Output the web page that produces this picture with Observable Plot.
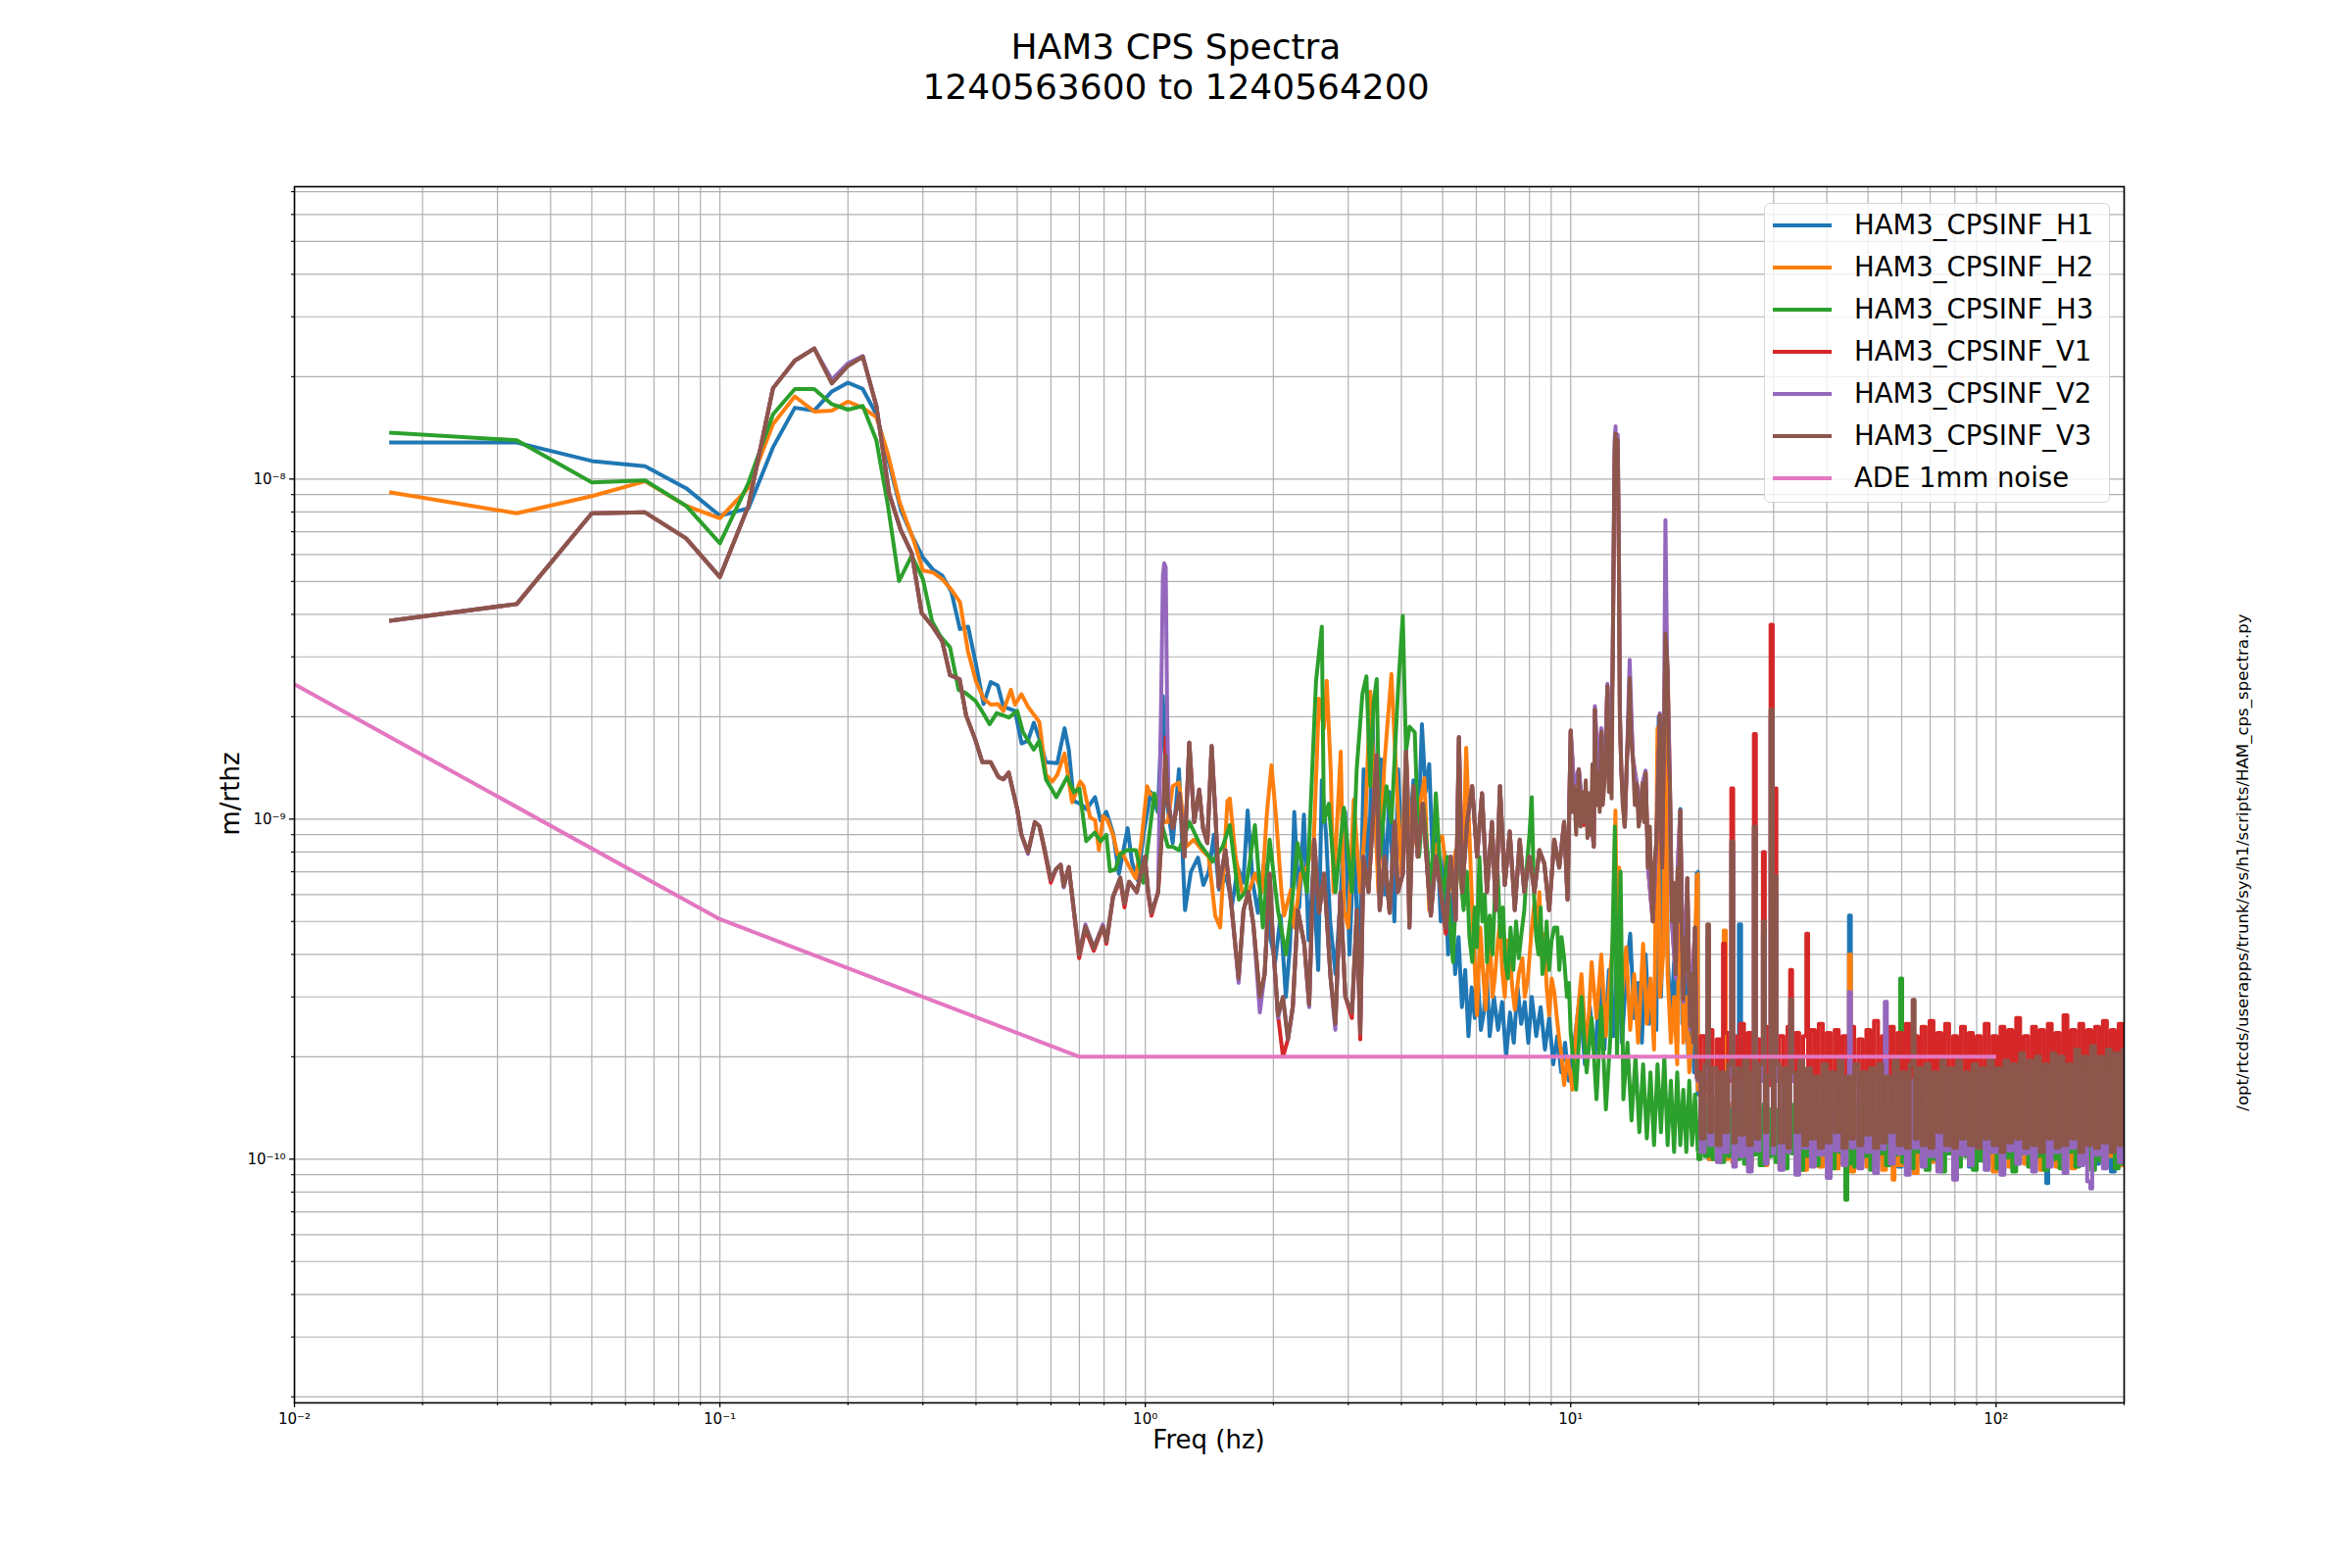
<!DOCTYPE html>
<html><head><meta charset="utf-8">
<script src="https://cdn.jsdelivr.net/npm/d3@7"></script>
<script src="https://cdn.jsdelivr.net/npm/@observablehq/plot@0.6"></script>
<style>
body{margin:0;background:#fff;font-family:"DejaVu Sans",sans-serif;}
#wrap{position:relative;width:2400px;height:1600px;background:#fff;overflow:hidden}
#chart{position:absolute;left:0;top:0}
#chart svg text{font-size:15px !important;font-family:"DejaVu Sans",sans-serif}
.abs{position:absolute;color:#000;white-space:nowrap}
#legend{position:absolute;left:1800px;top:207px;width:353px;height:306px;border:1.5px solid #d6d6d6;border-radius:6px;background:rgba(255,255,255,0.8);box-sizing:border-box}
.lrow{position:absolute;left:0;height:43px;width:100%}
.lline{position:absolute;left:8px;width:60px;height:4px}
.ltext{position:absolute;left:91px;font-size:27.5px;line-height:30px;color:#000}
</style></head><body>
<div id="wrap">
<div id="chart"></div>
<div class="abs" style="left:0;top:27px;width:2400px;text-align:center;font-size:36px;line-height:41px">HAM3 CPS Spectra<br>1240563600 to 1240564200</div>
<div class="abs" style="left:300px;top:1453px;width:1867px;text-align:center;font-size:26px;line-height:32px">Freq (hz)</div>
<div class="abs" style="left:235px;top:810px;font-size:26px;line-height:32px;transform:translate(-50%,-50%) rotate(-90deg)">m/rthz</div>
<div class="abs" style="left:2289px;top:880px;font-size:16.6px;line-height:20px;transform:translate(-50%,-50%) rotate(-90deg)">/opt/rtcds/userapps/trunk/sys/h1/scripts/HAM_cps_spectra.py</div>
<div id="legend"></div>
</div>
<script>
// values are in units of 1e-10 m/rthz
const UNIT = 1e-10;

const seriesNames = ["HAM3_CPSINF_H1","HAM3_CPSINF_H2","HAM3_CPSINF_H3","HAM3_CPSINF_V1","HAM3_CPSINF_V2","HAM3_CPSINF_V3","ADE 1mm noise"];
const seriesColors = ["#1f77b4","#ff7f0e","#2ca02c","#d62728","#9467bd","#8c564b","#e377c2"];

const xMajor = [0.01, 0.1, 1, 10, 100];
const xMajorLabels = ["10\u207B\u00B2","10\u207B\u00B9","10\u2070","10\u00B9","10\u00B2"];
const xMinor = [0.02,0.03,0.04,0.05,0.06,0.07,0.08,0.09,0.2,0.3,0.4,0.5,0.6,0.7,0.8,0.9,2,3,4,5,6,7,8,9,20,30,40,50,60,70,80,90,200];
const yMajor = [1e-10, 1e-9, 1e-8];
const yMajorLabels = ["10\u207B\u00B9\u2070","10\u207B\u2079","10\u207B\u2078"];
const yMinor = [2e-11,3e-11,4e-11,5e-11,6e-11,7e-11,8e-11,9e-11,2e-10,3e-10,4e-10,5e-10,6e-10,7e-10,8e-10,9e-10,2e-9,3e-9,4e-9,5e-9,6e-9,7e-9,8e-9,9e-9,2e-8,3e-8,4e-8,5e-8,6e-8,7e-8];

// frequency grid (Hz) for the dense 20-200 Hz noise band
const hiFreq = [
20.0,20.4,20.9,21.3,21.8,22.3,22.7,23.2,23.7,24.2,
24.7,25.3,25.8,26.4,26.9,27.5,28.1,28.7,29.3,30.0,
30.6,31.3,32.0,32.7,33.4,34.1,34.8,35.6,36.3,37.1,
37.9,38.7,39.6,40.4,41.3,42.2,43.1,44.0,45.0,45.9,
46.9,48.0,49.0,50.1,51.1,52.2,53.4,54.5,55.7,56.9,
58.1,59.4,60.7,62.0,63.3,64.7,66.1,67.5,69.0,70.5,
72.0,73.5,75.1,76.7,78.4,80.1,81.8,83.6,85.4,87.2,
89.1,91.0,93.0,95.0,97.1,99.2,101.3,103.5,105.7,108.0,
110.3,112.7,115.1,117.6,120.2,122.8,125.4,128.1,130.9,133.7,
136.6,139.5,142.5,145.6,148.7,151.9,155.2,158.6,162.0,165.5,
169.0,172.7,176.4,180.2,184.1,188.1,192.1,196.3,200.0];

// ---- HAM3_CPSINF_H1 ----
const h1Lo = [[0.0167,128],[0.0333,128],[0.05,113],[0.0667,109],[0.0833,94],[0.1,78],[0.1167,82],[0.1333,124],[0.15,162],[0.1667,159],[0.1833,181],[0.2,192],[0.2167,184],[0.2333,155],[0.25,111],[0.2667,80.7],[0.2833,67.9],[0.3,58.8],[0.3167,54.2],[0.3333,52.0],[0.35,46.6],[0.3667,36.2],[0.3833,36.8],[0.4,28.5],[0.4167,21.8],[0.4333,25.3],[0.45,24.7],[0.464,21.4],[0.494,20.8],[0.512,16.7],[0.53,17.0],[0.547,19.2],[0.564,17.2],[0.584,14.7],[0.621,14.6],[0.646,18.5],[0.661,16.0],[0.679,11.3],[0.703,11.1],[0.728,10.7],[0.762,11.6],[0.785,9.9],[0.81,10.5],[0.84,9.1],[0.867,6.9],[0.909,9.4],
[0.93,7.5],[0.96,6.6],[0.99,9.0],[1.03,12.0],[1.07,10.5],[1.10,23.0],[1.12,11.5],[1.16,8.5],[1.2,14.0],[1.24,5.4],[1.28,7.0],[1.33,7.7],[1.37,6.4],[1.41,7.0],[1.45,9.0],[1.49,6.2],[1.55,6.8],[1.6,5.6],[1.65,7.2],[1.7,6.5],[1.74,10.6],[1.79,6.5],[1.84,5.3],[1.9,7.4],[1.96,4.6],[2.02,3.8],[2.08,5.2],[2.14,3.0],[2.19,4.3],[2.24,10.5],[2.3,5.5],[2.36,10.3],[2.42,4.4],[2.48,7.0],[2.55,3.6],[2.6,13.0],[2.66,9.0],[2.72,5.0],[2.8,3.5],[2.88,6.0],[2.95,10.5],[3.02,4.0],[3.1,9.0],[3.18,3.3],[3.26,14.0],[3.35,6.5],[3.42,20.0],[3.5,8.0],[3.58,15.0],[3.66,6.0],[3.75,12.0],[3.85,5.0],[3.93,14.0],[4.02,7.0],[4.1,16.0],[4.18,9.0],[4.27,13.0],[4.37,8.0],[4.47,19.0],[4.56,12.0],[4.65,14.5],[4.75,7.0],[4.85,9.0],[4.95,5.0],[5.05,8.0],[5.15,4.0],[5.25,6.0],[5.35,3.5],[5.45,4.5],[5.55,2.8],[5.65,3.6],[5.75,2.3],[5.85,3.2],[5.95,2.6],[6.05,3.4],[6.15,2.4],[6.25,2.7],[6.35,3.5],[6.45,2.3],[6.6,3.0],[6.75,2.4],[6.9,2.9],[7.05,2.0],[7.2,2.7],[7.35,2.2],[7.5,3.2],[7.65,2.5],[7.8,2.9],[7.95,2.2],[8.1,3.0],[8.3,2.3],[8.5,2.8],[8.7,2.1],[8.9,2.6],[9.1,1.9],[9.3,2.3],[9.5,1.8],[9.7,2.2],[9.9,1.7],
[10.2,2.2],[10.5,3.0],[10.8,1.9],[11.1,2.8],[11.4,2.0],[11.7,3.2],[12.0,2.1],[12.3,3.6],[12.6,2.3],[12.9,4.5],[13.2,2.2],[13.5,3.5],[13.8,4.6],[14.1,2.6],[14.4,3.3],[14.7,2.2],[15.0,4.0],[15.3,2.5],[15.6,3.0],[15.9,2.4],[16.1,20.0],[16.3,3.0],[16.5,5.0],[16.7,28.0],[16.9,4.0],[17.2,2.5],[17.5,3.8],[17.8,2.2],[18.1,10.7],[18.3,2.5],[18.6,3.5],[18.9,2.0],[19.2,2.8],[19.5,1.8],[19.8,7.0]];
const h1Hi = [
1.55,1.05,1.6,1.0,1.5,1.08,1.5,1.02,1.45,1.0,
1.4,1.06,1.45,0.98,1.4,1.04,1.4,0.97,1.4,1.05,
1.4,0.99,1.45,1.05,1.4,0.97,1.4,1.06,1.4,0.96,
1.4,1.04,1.4,0.98,1.45,1.06,1.4,0.97,1.4,1.05,
1.4,0.97,1.45,1.05,1.4,0.96,1.4,1.04,1.45,0.98,
1.4,0.95,1.4,1.06,1.45,0.99,1.4,0.97,1.4,1.05,
1.4,0.96,1.4,1.04,1.45,0.98,1.4,1.06,1.4,0.95,
1.4,0.99,1.45,1.05,1.4,0.97,1.4,0.93,1.4,1.04,
1.45,0.98,1.4,1.05,1.4,0.96,1.45,1.03,1.4,0.97,
1.4,0.99,1.4,1.05,1.45,0.95,1.4,0.99,1.4,1.04,
1.4,0.97,1.45,1.02,1.4,0.92,1.4,1.05,1.4];
const h1Spikes = [[25.0,4.9],[45.2,5.2],[131.5,0.85]];

// ---- HAM3_CPSINF_H2 ----
const h2Lo = [[0.0167,91.5],[0.0333,79.3],[0.05,89.1],[0.0667,98.5],[0.0833,83.4],[0.1,76.7],[0.1167,94.2],[0.1333,145],[0.15,175],[0.1667,158],[0.1833,159],[0.2,169],[0.2167,162],[0.2333,152],[0.2485,118],[0.2645,85.5],[0.2855,66],[0.3,53.9],[0.317,53.1],[0.333,50.8],[0.35,47.3],[0.367,43.4],[0.383,31.1],[0.40,25.4],[0.417,22.6],[0.4335,21.7],[0.45,21.8],[0.464,20.8],[0.483,24.0],[0.494,21.7],[0.5116,23.3],[0.530,21.4],[0.5636,19.3],[0.584,13.5],[0.605,12.9],[0.621,13.5],[0.646,15.6],[0.673,11.2],[0.703,12.9],[0.716,12.5],[0.742,10.1],[0.762,9.94],[0.778,8.12],[0.796,10.2],[0.815,9.94],[0.84,8.99],[0.86,7.89],[0.881,7.98],[0.912,7.34],
[0.95,6.7],[0.98,8.7],[1.01,12.5],[1.025,11.9],[1.06,11.6],[1.10,9.8],[1.13,9.8],[1.16,12.5],[1.2,12.8],[1.25,8.3],[1.3,8.7],[1.36,8.1],[1.41,7.75],[1.46,5.2],[1.5,4.8],[1.56,11.3],[1.58,11.5],[1.63,7.75],[1.69,6.1],[1.75,6.1],[1.81,6.9],[1.88,6.1],[1.93,10.3],[1.98,14.4],[2.03,10.1],[2.09,6.1],[2.12,5.2],[2.2,6.2],[2.24,4.8],[2.32,6.9],[2.4,7.2],[2.49,8.7],[2.56,22.6],[2.63,18.5],[2.67,25.5],[2.73,13.7],[2.77,6.1],[2.88,15.8],[2.93,5.4],[3.0,4.8],[3.09,11.4],[3.2,6.1],[3.29,9.8],[3.38,23.7],[3.47,10.8],[3.53,6.1],[3.65,14.7],[3.79,26.7],[3.9,12.5],[4.0,6.9],[4.1,15.8],[4.2,7.75],[4.33,9.4],[4.53,13.2],[4.65,5.4],[4.82,8.3],[4.99,8.9],[5.17,6.1],[5.37,8.1],[5.56,6.1],[5.68,16.2],[5.87,5.4],[6.02,2.65],[6.13,4.8],[6.22,3.6],[6.31,2.75],[6.39,3.8],[6.47,4.3],[6.55,3.0],[6.63,3.4],[6.72,4.2],[6.82,5.0],[6.9,3.6],[7.0,3.0],[7.1,4.4],[7.19,4.0],[7.29,3.2],[7.39,2.75],[7.55,3.5],[7.7,3.9],[7.8,3.0],[7.93,3.4],[8.08,4.6],[8.22,5.7],[8.33,4.4],[8.44,6.1],[8.55,3.9],[8.67,4.6],[8.78,3.2],[8.9,2.65],[9.02,3.4],[9.15,3.1],[9.28,2.6],[9.4,2.25],[9.52,2.0],[9.65,1.65],[9.83,2.0],[10.1,1.6],
[10.3,2.4],[10.6,3.5],[10.9,2.0],[11.2,3.8],[11.5,2.6],[11.8,4.0],[12.1,2.3],[12.4,3.6],[12.6,4.5],[12.74,10.6],[12.85,4.0],[13.0,7.2],[13.2,3.0],[13.5,4.2],[13.8,2.4],[14.1,3.5],[14.4,2.2],[14.8,4.3],[15.1,2.5],[15.4,3.4],[15.7,2.1],[16.0,18.5],[16.2,3.0],[16.5,4.0],[16.7,24.0],[16.9,3.5],[17.2,2.2],[17.5,3.0],[17.8,1.9],[18.1,9.5],[18.4,2.2],[18.7,3.0],[19.0,1.8],[19.4,2.5],[19.8,6.9]];
const h2Hi = [
1.6,1.05,1.6,1.0,1.5,1.08,1.5,1.0,1.45,0.98,
1.4,1.04,1.45,0.95,1.4,1.06,1.4,0.96,1.4,1.03,
1.4,0.94,1.45,1.05,1.4,1.0,1.4,0.93,1.4,1.06,
1.4,0.95,1.4,1.04,1.45,0.94,1.4,1.07,1.4,0.92,
1.4,1.05,1.45,0.95,1.4,1.02,1.4,0.93,1.45,1.06,
1.4,0.96,1.4,1.04,1.45,0.91,1.4,1.05,1.4,0.98,
1.4,0.94,1.4,1.06,1.45,0.93,1.4,1.03,1.4,0.97,
1.4,1.05,1.45,0.98,1.4,0.92,1.4,1.06,1.4,0.95,
1.45,1.03,1.4,0.97,1.4,1.05,1.45,0.93,1.4,1.04,
1.4,0.95,1.4,1.06,1.45,0.94,1.4,1.03,1.4,0.97,
1.4,1.05,1.4,0.95,1.45,1.02,1.4,0.96,1.4];
const h2Spikes = [[23.1,4.7],[45.2,4.0],[57.3,0.87]];

// ---- HAM3_CPSINF_H3 ----
const h3Lo = [[0.0167,137],[0.0333,130],[0.05,97.8],[0.0667,99.1],[0.0833,83.4],[0.1,64.7],[0.1167,97.4],[0.1333,155],[0.15,184],[0.1667,184],[0.1833,166],[0.2,160],[0.2167,164],[0.2333,130],[0.2485,83.1],[0.2637,50.1],[0.2825,59.6],[0.3,50.8],[0.3155,38.1],[0.3305,34.4],[0.3476,32.0],[0.364,24.0],[0.378,23.5],[0.3985,22.3],[0.413,20.8],[0.4305,19.0],[0.4475,20.5],[0.478,19.9],[0.5,20.8],[0.516,18.0],[0.5468,16.0],[0.5636,17.0],[0.584,13.1],[0.618,11.6],[0.655,13.3],[0.68,12.0],[0.70,12.3],[0.726,8.61],[0.7604,9.12],[0.785,8.61],[0.81,8.99],[0.826,7.03],[0.851,7.12],[0.873,7.89],[0.909,8.12],
[0.95,8.1],[0.99,6.5],[1.05,11.9],[1.08,10.3],[1.13,8.3],[1.16,8.3],[1.2,8.1],[1.27,9.8],[1.34,8.5],[1.44,7.5],[1.52,8.3],[1.58,9.6],[1.66,5.8],[1.72,6.1],[1.81,9.6],[1.89,4.8],[1.96,8.7],[2.05,5.4],[2.14,4.0],[2.2,5.3],[2.28,8.5],[2.4,6.1],[2.52,25.5],[2.6,36.8],[2.63,9.8],[2.7,11.1],[2.8,6.1],[2.93,10.8],[3.06,6.1],[3.14,14.0],[3.24,23.4],[3.31,26.3],[3.38,12.5],[3.44,22.0],[3.5,25.8],[3.56,7.75],[3.69,12.5],[3.79,9.8],[3.93,24.3],[4.03,39.6],[4.1,15.8],[4.18,18.7],[4.3,18.0],[4.4,7.75],[4.5,11.1],[4.7,6.1],[4.82,11.9],[4.99,5.6],[5.13,7.75],[5.2,5.0],[5.29,3.8],[5.37,6.0],[5.46,9.4],[5.53,6.5],[5.6,5.4],[5.7,7.0],[5.78,4.5],[5.87,3.8],[5.95,5.5],[6.02,4.2],[6.1,7.75],[6.2,5.0],[6.28,6.0],[6.36,3.8],[6.45,5.2],[6.55,4.0],[6.64,6.2],[6.74,6.9],[6.83,4.5],[6.93,5.5],[7.02,3.8],[7.12,3.4],[7.22,4.8],[7.33,3.6],[7.44,5.0],[7.55,3.9],[7.66,4.6],[7.78,5.4],[7.9,7.5],[8.0,9.0],[8.1,11.6],[8.2,6.0],[8.3,4.5],[8.4,4.0],[8.5,5.5],[8.58,3.5],[8.67,3.8],[8.78,5.0],[8.9,3.6],[9.02,4.4],[9.15,4.8],[9.3,4.8],[9.4,3.6],[9.52,4.5],[9.65,3.9],[9.8,3.0],[9.9,3.3],[10.0,2.35],
[10.3,1.6],[10.6,3.0],[10.9,1.8],[11.2,2.6],[11.5,1.5],[11.8,2.8],[12.1,1.4],[12.4,2.3],[12.7,9.5],[12.85,2.0],[13.1,7.0],[13.3,1.5],[13.6,2.2],[13.9,1.3],[14.2,2.0],[14.5,1.2],[14.8,1.9],[15.1,1.15],[15.4,1.8],[15.7,1.1],[16.0,1.9],[16.3,1.2],[16.6,2.0],[16.9,1.1],[17.2,1.7],[17.5,1.05],[17.8,1.8],[18.1,1.1],[18.4,1.6],[18.7,1.05],[19.0,1.7],[19.3,1.1],[19.6,1.55],[19.9,1.05]];
const h3Hi = [
1.0,1.5,1.02,1.45,1.0,1.5,0.98,1.45,1.02,1.4,
1.0,1.4,0.97,1.45,1.03,1.4,0.96,1.45,1.02,1.4,
0.98,1.4,0.94,1.45,1.04,1.4,0.93,1.4,1.02,1.4,
0.96,1.4,1.03,1.45,0.94,1.4,1.05,1.4,0.97,1.4,
0.95,1.45,1.02,1.4,0.93,1.4,1.04,1.4,0.96,1.45,
1.03,1.4,0.98,1.4,0.94,1.4,1.05,1.4,0.93,1.45,
1.0,1.4,0.92,1.4,1.04,1.4,0.95,1.45,1.02,1.4,
0.93,1.4,0.99,1.4,1.05,1.45,0.94,1.4,1.01,1.4,
0.92,1.4,1.04,1.45,0.95,1.4,1.02,1.4,0.93,1.4,
1.0,1.45,0.94,1.4,1.05,1.4,0.95,1.4,1.02,1.45,
0.93,1.4,0.99,1.4,1.05,1.4,0.94,1.45,0.97];
const h3Spikes = [[44.4,0.76],[59.6,3.4]];

// ---- HAM3_CPSINF_V1 ----
const v1Lo = [[0.0167,38.3],[0.0333,42.9],[0.05,79.3],[0.0667,79.8],[0.0833,66.9],[0.1,51.5],[0.1167,83.4],[0.1333,185],[0.15,223],[0.1667,242],[0.1833,192],[0.2,216],[0.2167,229],[0.2333,164],[0.25,90.6],[0.266,70.9],[0.2825,60.5],[0.298,40.4],[0.3155,37.0],[0.333,33.4],[0.3476,26.5],[0.366,25.8],[0.379,20.2],[0.398,17.2],[0.414,14.7],[0.433,14.7],[0.4517,13.3],[0.464,13.1],[0.4775,13.7],[0.5,10.7],[0.5116,8.99],[0.530,7.98],[0.550,9.80],[0.5637,9.53],[0.579,8.1],[0.5995,6.5],[0.617,7.12],[0.6325,7.34],[0.643,6.35],[0.661,7.23],[0.699,3.9],[0.723,4.75],[0.7566,4.1],[0.795,4.83],[0.8105,4.3],[0.84,5.92],[0.8732,6.6],[0.8935,5.5],[0.916,6.54],
[0.955,6.1],[0.998,7.75],[1.016,6.0],[1.034,5.2],[1.072,6.1],[1.101,10.3],[1.117,17.4],[1.130,11.1],[1.161,9.4],[1.203,11.9],[1.236,7.75],[1.269,16.8],[1.303,9.8],[1.339,12.2],[1.367,9.4],[1.399,8.5],[1.432,16.4],[1.463,10.1],[1.489,6.3],[1.543,8.1],[1.599,5.3],[1.657,3.4],[1.702,5.4],[1.748,6.1],[1.795,4.9],[1.859,3.0],[1.908,3.5],[1.961,6.9],[1.997,4.3],[2.051,2.65],[2.107,2.0],[2.164,2.25],[2.222,2.8],[2.283,5.4],[2.364,4.3],[2.428,2.85],[2.495,8.7],[2.562,5.3],[2.631,6.9],[2.727,3.4],[2.797,2.5],[2.876,6.1],[2.953,3.0],[3.060,2.6],[3.143,5.4],[3.201,2.25],[3.258,7.75],[3.347,6.1],[3.437,10.6],[3.497,15.4],[3.557,5.4],[3.654,7.75],[3.754,5.3],[3.856,9.8],[3.925,6.1],[4.032,6.9],[4.105,15.8],[4.177,4.8],[4.268,12.5],[4.369,7.75],[4.488,11.1],[4.609,6.9],[4.691,5.2],[4.821,7.75],[4.951,6.1],[5.085,4.6],[5.223,7.75],[5.366,5.05],[5.461,17.4],[5.559,6.1],[5.710,9.8],[5.865,12.5],[6.024,7.75],[6.188,11.9],[6.356,6.1],[6.530,9.8],[6.666,5.4],[6.82,12.5],[7.00,6.4],[7.19,9.2],[7.39,5.4],[7.59,8.7],[7.78,6.1],[8.00,7.75],[8.22,6.1],[8.44,8.1],[8.67,7.4],[8.90,5.4],[9.15,8.7],[9.40,7.2],[9.65,9.8],[9.83,5.8],[10.0,18.2],[10.18,12.5],[10.45,14.0],[10.74,9.6],[11.03,11.9],[11.33,8.3],
[11.4,21.0],[11.6,13.7],[11.8,18.1],[12.0,12.7],[12.2,24.6],[12.4,14.6],[12.55,27.9],[12.68,110],[12.75,125],[12.82,88],[12.9,120],[12.98,58],[13.05,20],[13.15,14],[13.4,9.5],[13.55,14.6],[13.76,25.0],[14.0,15.1],[14.3,12.7],[14.6,10.3],[14.75,12.7],[15.0,13.7],[15.2,7.2],[15.6,5.0],[15.9,8.6],[16.2,20.2],[16.4,7.2],[16.55,15.7],[16.7,33.0],[16.9,27],[17.1,13.2],[17.3,5.0],[17.65,3.5],[17.85,7.2],[18.1,10.6],[18.4,2.95],[18.8,6.7],[19.1,2.46],[19.6,4.8],[19.8,1.75]];
const v1Hi = [
1.7,2.3,1.6,2.4,1.7,2.25,1.65,2.35,1.7,2.3,
1.7,2.5,1.6,2.35,1.75,2.25,1.7,2.45,1.65,2.35,
1.7,2.3,1.65,2.45,1.7,2.35,1.6,2.3,1.7,2.4,
1.65,2.5,1.7,2.35,1.6,2.4,1.75,2.3,1.65,2.45,
1.7,2.25,1.6,2.4,1.7,2.55,1.65,2.3,1.7,2.45,
1.6,2.35,1.7,2.5,1.65,2.3,1.75,2.45,1.6,2.55,
1.7,2.35,1.65,2.5,1.7,2.3,1.6,2.45,1.75,2.35,
1.65,2.3,1.7,2.5,1.6,2.3,1.7,2.45,1.65,2.4,
1.7,2.6,1.6,2.3,1.75,2.45,1.65,2.4,1.7,2.5,
1.6,2.35,1.7,2.65,1.65,2.4,1.75,2.5,1.6,2.4,
1.7,2.45,1.65,2.55,1.7,2.4,1.6,2.5,1.7];
const v1Spikes = [[22.9,4.3],[24.0,12.3],[27.0,17.8],[28.5,8.0],[29.7,37.3],[30.3,12.3],[32.9,3.6],[36.0,4.6]];

// ---- HAM3_CPSINF_V2 ----
const v2Lo = [[0.0167,38.3],[0.0333,42.9],[0.05,79.3],[0.0667,79.8],[0.0833,66.9],[0.1,51.5],[0.1167,83.4],[0.1333,185],[0.15,223],[0.1667,242],[0.1833,196],[0.2,219],[0.2167,230],[0.2333,164],[0.25,90.6],[0.266,70.9],[0.2825,60.5],[0.298,40.4],[0.3155,37.0],[0.333,33.4],[0.3476,26.5],[0.366,25.8],[0.379,20.2],[0.398,17.2],[0.414,14.7],[0.433,14.7],[0.4517,13.3],[0.464,13.1],[0.4775,13.7],[0.5,10.7],[0.5116,8.99],[0.530,7.9],[0.550,9.80],[0.5637,9.53],[0.579,8.24],[0.5995,6.64],[0.617,7.12],[0.6325,7.34],[0.643,6.3],[0.661,7.23],[0.699,4.0],[0.723,4.9],[0.7566,4.18],[0.795,4.9],[0.8105,4.37],[0.84,5.92],[0.8732,6.73],[0.8935,5.66],[0.916,6.54],
[0.955,6.1],[0.998,7.75],[1.016,6.1],[1.034,5.3],[1.072,6.1],[1.091,25],[1.1,52],[1.108,56.5],[1.117,55],[1.126,20],[1.135,11.0],[1.161,9.4],[1.203,11.9],[1.236,7.75],[1.269,16.8],[1.303,9.8],[1.339,12.2],[1.367,9.4],[1.399,8.5],[1.432,16.4],[1.463,10.1],[1.489,6.3],[1.543,8.1],[1.599,5.4],[1.657,3.3],[1.702,5.4],[1.748,6.1],[1.795,4.9],[1.859,2.7],[1.908,3.5],[1.961,6.9],[1.997,4.3],[2.051,2.6],[2.107,3.0],[2.164,2.25],[2.222,2.8],[2.283,5.4],[2.364,4.3],[2.428,2.8],[2.495,8.7],[2.562,5.3],[2.631,6.9],[2.727,3.4],[2.797,2.4],[2.876,6.1],[2.953,3.0],[3.060,2.7],[3.143,5.4],[3.201,2.35],[3.258,7.75],[3.347,6.1],[3.437,10.6],[3.497,15.4],[3.557,5.4],[3.654,7.75],[3.754,5.3],[3.856,9.8],[3.925,6.1],[4.032,6.9],[4.105,15.8],[4.177,4.8],[4.268,12.5],[4.369,7.75],[4.488,11.1],[4.609,6.9],[4.691,5.2],[4.821,7.75],[4.951,6.1],[5.085,4.8],[5.223,7.75],[5.366,5.05],[5.461,17.4],[5.559,6.1],[5.710,9.8],[5.865,12.5],[6.024,7.75],[6.188,11.9],[6.356,6.1],[6.530,9.8],[6.666,5.4],[6.82,12.5],[7.00,6.4],[7.19,9.2],[7.39,5.4],[7.59,8.7],[7.78,6.1],[8.00,7.75],[8.22,6.1],[8.44,8.1],[8.67,7.4],[8.90,5.4],[9.15,8.7],[9.40,7.2],[9.65,9.8],[9.83,5.8],[10.0,18.2],[10.18,12.5],[10.45,14.0],[10.74,9.8],[11.03,11.9],[11.33,8.3],
[11.4,21.5],[11.6,13.9],[11.8,18.5],[12.0,12.9],[12.2,25.0],[12.4,14.8],[12.55,28.5],[12.68,130],[12.75,143],[12.82,100],[12.9,135],[12.98,65],[13.05,21],[13.15,14],[13.4,9.5],[13.55,14.6],[13.76,29.4],[14.0,15.1],[14.3,12.7],[14.6,10.5],[14.75,12.7],[15.0,13.9],[15.2,7.2],[15.6,5.0],[15.9,8.6],[16.2,20.5],[16.4,7.2],[16.55,16.0],[16.7,75.7],[16.85,30],[17.1,13.2],[17.3,5.0],[17.65,3.4],[17.85,7.2],[18.1,10.6],[18.4,2.9],[18.8,6.7],[19.1,2.4],[19.6,4.8],[19.8,1.7]];
const v2Hi = [
1.7,1.05,1.75,1.1,1.7,0.98,1.7,1.05,1.75,0.95,
1.7,1.02,1.75,0.92,1.7,1.06,1.7,0.97,1.75,1.04,
1.7,0.93,1.75,1.05,1.7,0.9,1.75,1.08,1.7,0.95,
1.7,1.03,1.75,0.88,1.7,1.06,1.75,0.96,1.7,1.08,
1.75,0.94,1.7,1.05,1.75,0.91,1.7,1.07,1.75,0.97,
1.7,1.04,1.75,0.9,1.7,1.08,1.75,0.95,1.7,1.02,
1.75,0.92,1.7,1.06,1.75,0.87,1.7,1.03,1.75,0.96,
1.7,1.08,1.75,0.93,1.7,1.05,1.75,0.9,1.7,1.06,
1.75,0.97,1.7,1.04,1.75,0.92,1.7,1.07,1.75,0.95,
1.7,1.05,1.75,0.91,1.7,1.08,1.75,0.96,1.7,0.86,
1.75,1.03,1.7,0.94,1.75,1.06,1.7,0.98,1.75];
const v2Spikes = [[21.0,4.5],[24.0,8.0],[27.0,9.0],[28.5,4.6],[29.7,20.0],[30.3,6.0],[32.9,2.8],[45.2,3.1],[55.0,2.9],[167.5,0.82]];

// ---- HAM3_CPSINF_V3 ----
const v3Lo = [[0.0167,38.3],[0.0333,42.9],[0.05,79.3],[0.0667,79.8],[0.0833,66.9],[0.1,51.5],[0.1167,83.4],[0.1333,185],[0.15,223],[0.1667,242],[0.1833,191],[0.2,215],[0.2167,229],[0.2333,164],[0.25,90.6],[0.266,70.9],[0.2825,60.5],[0.298,40.4],[0.3155,37.0],[0.333,33.4],[0.3476,26.5],[0.366,25.8],[0.379,20.2],[0.398,17.2],[0.414,14.7],[0.433,14.7],[0.4517,13.3],[0.464,13.1],[0.4775,13.7],[0.5,10.7],[0.5116,8.99],[0.530,7.98],[0.550,9.80],[0.5637,9.53],[0.579,8.24],[0.5995,6.64],[0.617,7.12],[0.6325,7.34],[0.643,6.35],[0.661,7.23],[0.699,4.0],[0.723,4.83],[0.7566,4.18],[0.795,4.83],[0.8105,4.37],[0.84,5.92],[0.8732,6.73],[0.8935,5.66],[0.916,6.54],
[0.955,6.1],[0.998,7.75],[1.016,6.1],[1.034,5.3],[1.072,6.1],[1.101,10.3],[1.117,15.4],[1.130,11.1],[1.161,9.4],[1.203,11.9],[1.236,7.75],[1.269,16.8],[1.303,9.8],[1.339,12.2],[1.367,9.4],[1.399,8.5],[1.432,16.4],[1.463,10.1],[1.489,6.3],[1.543,8.1],[1.599,5.4],[1.657,3.4],[1.702,5.4],[1.748,6.1],[1.795,4.9],[1.859,3.0],[1.908,3.5],[1.961,6.9],[1.997,4.3],[2.051,2.65],[2.107,3.0],[2.164,2.25],[2.222,2.8],[2.283,5.4],[2.364,4.3],[2.428,2.85],[2.495,8.7],[2.562,5.3],[2.631,6.9],[2.727,3.4],[2.797,2.5],[2.876,6.1],[2.953,3.0],[3.060,2.7],[3.143,5.4],[3.201,2.35],[3.258,7.75],[3.347,6.1],[3.437,10.6],[3.497,15.4],[3.557,5.4],[3.654,7.75],[3.754,5.3],[3.856,9.8],[3.925,6.1],[4.032,6.9],[4.105,15.8],[4.177,4.8],[4.268,12.5],[4.369,7.75],[4.488,11.1],[4.609,6.9],[4.691,5.2],[4.821,7.75],[4.951,6.1],[5.085,4.8],[5.223,7.75],[5.366,5.05],[5.461,17.4],[5.559,6.1],[5.710,9.8],[5.865,12.5],[6.024,7.75],[6.188,11.9],[6.356,6.1],[6.530,9.8],[6.666,5.4],[6.82,12.5],[7.00,6.4],[7.19,9.2],[7.39,5.4],[7.59,8.7],[7.78,6.1],[8.00,7.75],[8.22,6.1],[8.44,8.1],[8.67,7.4],[8.90,5.4],[9.15,8.7],[9.40,7.2],[9.65,9.8],[9.83,5.8],
[10.0,18.2],[10.1,10.5],[10.18,12.5],[10.3,9.0],[10.45,14.0],[10.55,9.5],[10.65,12.0],[10.74,9.8],[10.85,13.0],[10.95,8.8],[11.03,11.9],[11.15,9.0],[11.25,14.5],[11.33,8.3],[11.4,21.0],[11.5,11.0],[11.6,13.7],[11.7,10.5],[11.8,18.1],[11.9,11.0],[12.0,12.7],[12.1,16.0],[12.2,24.6],[12.3,12.0],[12.4,14.6],[12.48,11.5],[12.55,27.9],[12.68,120],[12.75,136],[12.82,90],[12.9,130],[12.98,60],[13.05,20],[13.15,14],[13.25,11.0],[13.4,9.5],[13.48,12.0],[13.55,14.6],[13.65,18.0],[13.76,26.0],[13.88,17.0],[14.0,15.1],[14.15,11.0],[14.3,12.7],[14.45,9.5],[14.6,10.3],[14.75,12.7],[14.88,9.8],[15.0,13.7],[15.1,10.0],[15.2,7.2],[15.35,9.5],[15.45,6.5],[15.6,5.0],[15.75,7.5],[15.9,8.6],[16.05,12.0],[16.2,20.2],[16.3,10.0],[16.4,7.2],[16.55,15.7],[16.7,35.1],[16.9,28],[17.0,15.0],[17.1,13.2],[17.2,8.0],[17.3,5.0],[17.45,6.5],[17.65,3.5],[17.75,5.5],[17.85,7.2],[17.95,5.0],[18.1,10.6],[18.25,4.5],[18.4,2.95],[18.55,4.5],[18.7,3.6],[18.8,6.7],[18.95,3.5],[19.1,2.46],[19.25,3.5],[19.4,2.2],[19.6,4.8],[19.7,2.6],[19.8,1.72]];
const v3Hi = [
1.8,1.15,1.9,1.2,1.85,1.1,1.8,1.2,1.9,1.12,
1.85,1.18,1.95,1.1,1.8,1.15,1.9,1.2,1.75,1.1,
1.9,1.12,1.85,1.08,1.8,1.2,1.95,1.1,1.85,1.15,
1.75,1.08,1.9,1.12,1.8,1.2,1.95,1.08,1.75,1.15,
1.9,1.1,1.8,1.18,1.85,1.08,1.9,1.12,1.75,1.2,
1.95,1.1,1.8,1.08,1.9,1.15,1.85,1.1,1.9,1.08,
1.8,1.2,1.95,1.1,1.85,1.08,1.95,1.15,1.8,1.1,
1.9,1.08,1.85,1.15,2.0,1.1,1.85,1.05,1.95,1.12,
1.9,1.15,2.05,1.08,1.95,1.1,2.0,1.05,1.9,1.15,
2.05,1.08,2.0,1.1,1.9,1.15,2.1,1.05,2.0,1.1,
2.15,1.08,2.0,1.12,2.1,1.05,2.05,1.1,2.1];
const v3Spikes = [[21.0,4.9],[24.0,8.6],[27.0,9.5],[28.5,5.0],[29.7,21.0],[30.3,6.8],[32.9,2.95],[64.0,2.94]];

// ---- ADE 1mm noise ----
const adeNoise = [[0.01,24.9],[0.1,5.08],[0.7,2.0],[100,2.0]];

// table building
function loRows(lo) { return lo.map(([f, u]) => ({f, v: u * UNIT})); }
function bandRows(lo, hi, spikes) {
  const last = lo[lo.length - 1];
  const rows = [{f: last[0], v: last[1] * UNIT}];
  hiFreq.forEach((f, i) => rows.push({f, v: hi[i] * UNIT}));
  spikes.forEach(([f, u]) => rows.push({f, v: u * UNIT}));
  rows.sort((a, b) => a.f - b.f);
  return rows;
}
const cps = [
  [h1Lo, h1Hi, h1Spikes], [h2Lo, h2Hi, h2Spikes], [h3Lo, h3Hi, h3Spikes],
  [v1Lo, v1Hi, v1Spikes], [v2Lo, v2Hi, v2Spikes], [v3Lo, v3Hi, v3Spikes]
];

const lineStyle = {strokeWidth: 4, strokeLinejoin: "round", strokeLinecap: "butt", clip: true};
const lineMarks = [];
cps.forEach(([lo, hi, spikes], i) => {
  lineMarks.push(Plot.line(loRows(lo), {x: "f", y: "v", stroke: seriesColors[i], ...lineStyle}));
  lineMarks.push(Plot.line(bandRows(lo, hi, spikes), {x: "f", y: "v", stroke: seriesColors[i], curve: "step", ...lineStyle}));
});
lineMarks.push(Plot.line(loRows(adeNoise), {x: "f", y: "v", stroke: seriesColors[6], ...lineStyle}));

const gridStyle = {stroke: "#b0b0b0", strokeOpacity: 1, strokeWidth: 1.2};
const chart = Plot.plot({
  width: 2400, height: 1600,
  marginTop: 190, marginBottom: 169, marginLeft: 300, marginRight: 233,
  style: {fontFamily: "DejaVu Sans", fontSize: "15px", background: "white", color: "black"},
  x: {type: "log", domain: [0.01, 200], axis: null},
  y: {type: "log", domain: [1.92e-11, 7.24e-8], axis: null},
  marks: [
    Plot.gridX(xMinor.concat(xMajor), gridStyle),
    Plot.gridY(yMinor.concat(yMajor), gridStyle),
    ...lineMarks,
    Plot.frame({stroke: "black", strokeWidth: 1.6}),
    Plot.axisX(xMajor, {anchor: "bottom", tickSize: 5, tickPadding: 6, strokeWidth: 1.3, fontSize: 15, label: null,
      tickFormat: d => xMajorLabels[xMajor.indexOf(d)]}),
    Plot.axisX(xMinor, {anchor: "bottom", tickSize: 3, strokeWidth: 1.1, label: null, tickFormat: () => ""}),
    Plot.axisY(yMajor, {anchor: "left", tickSize: 5, tickPadding: 4, strokeWidth: 1.3, fontSize: 15, label: null,
      tickFormat: d => yMajorLabels[yMajor.indexOf(d)]}),
    Plot.axisY(yMinor, {anchor: "left", tickSize: 3, strokeWidth: 1.1, label: null, tickFormat: () => ""})
  ]
});
document.getElementById("chart").appendChild(chart);

const legend = document.getElementById("legend");
seriesNames.forEach((name, i) => {
  const row = document.createElement("div");
  row.className = "lrow";
  row.style.top = (43 * i) + "px";
  const ln = document.createElement("div");
  ln.className = "lline";
  ln.style.top = "20px";
  ln.style.background = seriesColors[i];
  const tx = document.createElement("div");
  tx.className = "ltext";
  tx.style.top = "6px";
  tx.textContent = name;
  row.appendChild(ln); row.appendChild(tx);
  legend.appendChild(row);
});
</script>
</body></html>
